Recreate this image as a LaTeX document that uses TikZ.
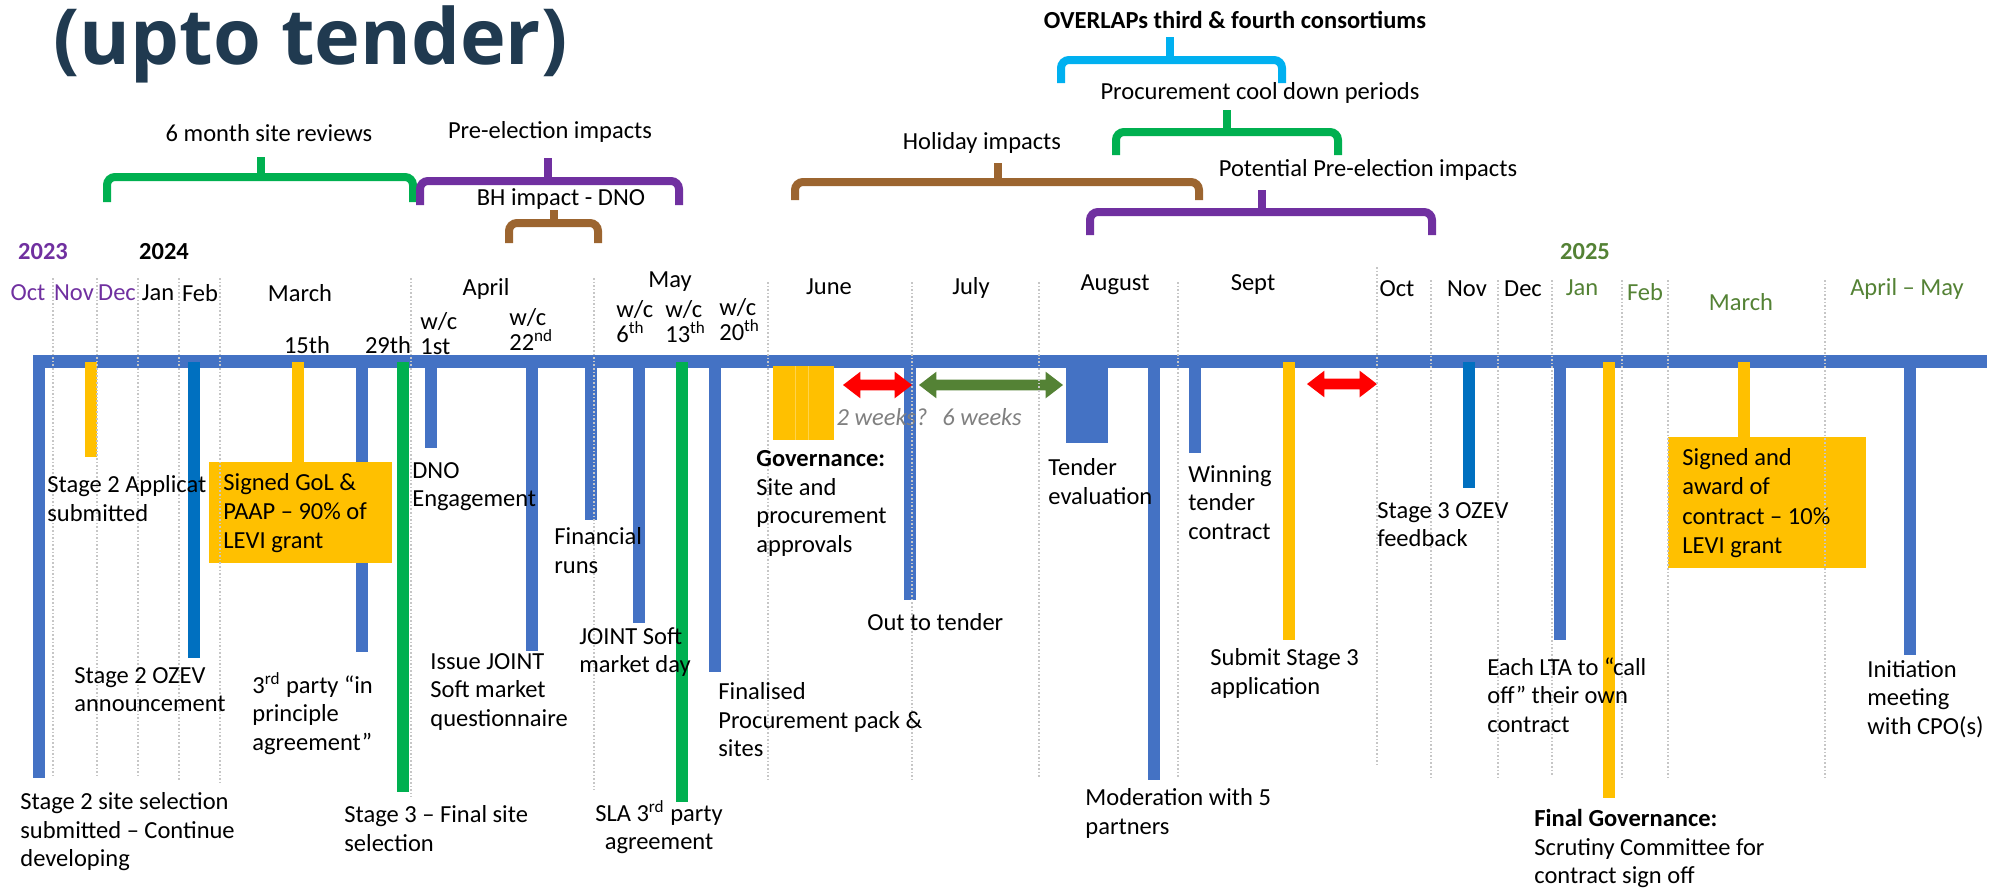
\documentclass[tikz,border=0pt]{standalone}
\usepackage{fontspec}
\setmainfont{Carlito}
\newfontfamily\titlefont{Open Sans}
\usetikzlibrary{shapes.arrows}

\definecolor{tlblue}{HTML}{4472C4}
\definecolor{tldblue}{HTML}{0070C0}
\definecolor{tlorange}{HTML}{FFC000}
\definecolor{tlgreen}{HTML}{00B050}
\definecolor{tlpurple}{HTML}{7030A0}
\definecolor{tlbrown}{HTML}{9C6530}
\definecolor{tlcyan}{HTML}{00B0F0}
\definecolor{tlolive}{HTML}{548235}
\definecolor{tlnavy}{HTML}{203A50}

\tikzset{
  evbar/.style={line width=6pt},
  brace/.style={line width=4pt, rounded corners=4pt},
  gridln/.style={gray!45, line width=0.6pt, dash pattern=on 0.8pt off 1pt},
  lbl/.style={anchor=north west, inner sep=0pt, align=left},
  mon/.style={inner sep=0pt},
  wc/.style={anchor=north west, inner sep=0pt, align=left, font=\fontsize{12.25}{12.5}\selectfont},
  grantbox/.style={fill=tlorange, anchor=north west, inner sep=0pt},
  gap/.style={double arrow, double arrow head extend=4pt, double arrow tip angle=75,
    minimum width=13pt, inner xsep=0pt, inner ysep=2.5pt, draw=none},
  weeks/.style={font=\fontsize{12.25}{14}\selectfont\itshape, text=gray}
}

\begin{document}
\begin{tikzpicture}[x=0.5pt, y=-0.5pt, font=\fontsize{12.25}{14.3}\selectfont]
    \useasboundingbox (0,0) rectangle (2004,890);

    % Title
    \node[anchor=base west, inner sep=0pt, text=tlnavy, font=\titlefont\bfseries\fontsize{38.7}{42}\selectfont]
        (title) at (53,64) {(upto tender)};

    % Braces for the impact periods
    \draw[brace, tlgreen] (107,202) -- (107,177) -- (413,177) -- (413,202);
    \draw[brace, tlgreen] (261,177) -- (261,157);
    \node (sixmonth) at (269,133) {6 month site reviews};

    \draw[brace, tlpurple] (420,205) -- (420,181) -- (679,181) -- (679,205);
    \draw[brace, tlpurple] (548,181) -- (548,158);
    \node (preelect) at (550,132) {Pre-election impacts};

    \draw[brace, tlbrown] (509,243) -- (509,223) -- (598,223) -- (598,243);
    \draw[brace, tlbrown] (554,223) -- (554,210);
    \node (bhimpact) at (561,199) {BH impact - DNO};

    \draw[brace, tlbrown] (795,200) -- (795,182) -- (1199,182) -- (1199,200);
    \draw[brace, tlbrown] (998,182) -- (998,163);
    \node (holiday) at (982,143) {Holiday impacts};

    \draw[brace, tlcyan] (1061,83) -- (1061,60) -- (1282,60) -- (1282,83);
    \draw[brace, tlcyan] (1170,60) -- (1170,37);
    \node[font=\fontsize{12.25}{14}\selectfont\bfseries] (overlap) at (1235,20) {OVERLAPs third \& fourth consortiums};

    \draw[brace, tlgreen] (1116,155) -- (1116,132) -- (1338,132) -- (1338,155);
    \draw[brace, tlgreen] (1227,132) -- (1227,110);
    \node (cooldown) at (1260,93) {Procurement cool down periods};

    \draw[brace, tlpurple] (1090,235) -- (1090,212) -- (1432,212) -- (1432,235);
    \draw[brace, tlpurple] (1262,212) -- (1262,190);
    \node (potential) at (1368,170) {Potential Pre-election impacts};

    % Years and months
    \node[mon, text=tlpurple, font=\fontsize{12.25}{14}\selectfont\bfseries] (y23) at (43,252) {2023};
    \node[mon, font=\fontsize{12.25}{14}\selectfont\bfseries] (y24) at (164,252) {2024};
    \node[mon, text=tlolive, font=\fontsize{12.25}{14}\selectfont\bfseries] (y25) at (1585,252) {2025};

    \node[mon, text=tlpurple] (oct23) at (28,293) {Oct};
    \node[mon, text=tlpurple] (nov23) at (74,293) {Nov};
    \node[mon, text=tlpurple] (dec23) at (117,293) {Dec};
    \node[mon] (jan24) at (158,293) {Jan};
    \node[mon] (feb24) at (200,293) {Feb};
    \node[mon] (mar24) at (300,293) {March};
    \node[mon] (apr24) at (486,289) {April};
    \node[mon] (may24) at (670,282) {May};
    \node[mon] (jun24) at (829,287) {June};
    \node[mon] (jul24) at (971,288) {July};
    \node[mon] (aug24) at (1115,285) {August};
    \node[mon] (sep24) at (1253,285) {Sept};
    \node[mon] (oct24) at (1397,289) {Oct};
    \node[mon] (nov24) at (1467,289) {Nov};
    \node[mon] (dec24) at (1523,289) {Dec};
    \node[mon, text=tlolive] (jan25) at (1582,288) {Jan};
    \node[mon, text=tlolive] (feb25) at (1645,292) {Feb};
    \node[mon, text=tlolive] (mar25) at (1741,302) {March};
    \node[mon, text=tlolive] (aprmay) at (1907,289) {April -- May};

    % Days and weeks
    \node[mon] (d15) at (307,345) {15th};
    \node[mon] (d29) at (388,345) {29th};
    \node[wc] (wc1) at (420,312) {w/c\\1st};
    \node[wc] (wc22) at (509,308) {w/c\\22\textsuperscript{nd}};
    \node[wc] (wc6) at (616,300) {w/c\\6\textsuperscript{th}};
    \node[wc] (wc13) at (665,300) {w/c\\13\textsuperscript{th}};
    \node[wc] (wc20) at (719,298) {w/c\\20\textsuperscript{th}};

    % Main time line
    \coordinate (tlstart) at (33,361.5);
    \coordinate (tlend) at (1987,361.5);
    \draw[line width=6.5pt, tlblue] (tlstart) -- (tlend);

    % Event bars
    \foreach \n/\x/\y/\c in {sel/39/778/tlblue, app/91/457/tlorange, ozev/194/658/tldblue,
        party/362/652/tlblue, final/403/792/tlgreen, dno/431/448/tlblue, sq/532/651/tlblue,
        fin/591/520/tlblue, smd/639/623/tlblue, sla/682/802/tlgreen, pack/715/672/tlblue,
        out/910/600/tlblue, mod/1154/780/tlblue, win/1195/453/tlblue, sub/1289/640/tlorange,
        fb/1469/488/tldblue, lta/1560/640/tlblue, gov/1609/798/tlorange, cpo/1910/655/tlblue}
    {
        \coordinate (t\n) at (\x,362);
        \coordinate (e\n) at (\x,\y);
        \draw[evbar, \c] (t\n) -- (e\n);
    }
    \draw[evbar, tlblue] (39,355) -- (tsel);

    % Grant boxes
    \node[grantbox, minimum width=91.5pt, minimum height=50.5pt] (gol) at (209,462) {};
    \node[anchor=west, inner sep=0pt, align=left, font=\fontsize{12.25}{14.5}\selectfont]
        (golt) at ([xshift=7pt]gol.west) {Signed GoL \&\\PAAP -- 90\% of\\LEVI grant};
    \node[grantbox, minimum width=99pt, minimum height=65.5pt] (award) at (1668,437) {};
    \node[anchor=west, inner sep=0pt, align=left, font=\fontsize{12.25}{14.7}\selectfont]
        (awardt) at ([xshift=7pt]award.west) {Signed and\\award of\\contract -- 10\%\\LEVI grant};
    \coordinate (tgol) at (298,362);
    \draw[evbar, tlorange] (tgol) -- (tgol |- gol.north);
    \coordinate (taward) at (1744,362);
    \draw[evbar, tlorange] (taward) -- (taward |- award.north);

    % June governance and tender evaluation blocks
    \fill[tlorange] (773,366) rectangle (834,440);
    \draw[tlorange!70!white, line width=0.3pt] (795,366) -- (795,440) (808,366) -- (808,440);
    \fill[tlblue] (1066,362) rectangle (1108,443);

    % Gaps between steps
    \node[gap, fill=red, minimum height=34.5pt] (gapa) at (877.5,385) {};
    \node[gap, fill=tlolive, minimum height=72pt] (gapb) at (991,385) {};
    \node[gap, fill=red, minimum height=35pt] (gapc) at (1342,384) {};
    \node[weeks] (twowk) at (882,417) {2 weeks?};
    \node[weeks] (sixwk) at (982,417) {6 weeks};

    % Month grid
    \foreach \x/\a/\b in {53/278/777, 97/278/776, 138/278/777, 179/278/780, 220/278/783,
        411/278/797, 594/278/790, 768/282/782, 912/282/780, 1039/282/777, 1178/282/777,
        1377/267/765, 1431/280/780, 1498/280/780, 1552/280/775, 1622/280/777,
        1668/280/780, 1825/280/780}
        \draw[gridln] (\x,\a) -- (\x,\b);

    % Event labels
    \node[lbl] (lsel) at (20,792) {Stage 2 site selection\\submitted -- Continue\\developing};
    \node[lbl] (lapp) at (47,475) {Stage 2 Applicat\\submitted};
    \node[lbl] (lozev) at (74,667) {Stage 2 OZEV\\announcement};
    \node[lbl] (lparty) at (252,672) {3\textsuperscript{rd} party “in\\principle\\agreement”};
    \node[lbl] (lfinal) at (344,805) {Stage 3 -- Final site\\selection};
    \node[lbl] (ldno) at (412,462) {DNO\\Engagement};
    \node[lbl] (lsq) at (430,653) {Issue JOINT\\Soft market\\questionnaire};
    \node[lbl] (lfin) at (554,527) {Financial\\runs};
    \node[lbl] (lsmd) at (579,627) {JOINT Soft\\market day};
    \node[lbl, anchor=north, align=center] (lsla) at (659,800) {SLA 3\textsuperscript{rd} party\\agreement};
    \node[lbl] (lpack) at (718,682) {Finalised\\Procurement pack \&\\sites};
    \node[lbl] (lgov) at (756,450) {\textbf{Governance:}\\Site and\\procurement\\approvals};
    \node[lbl] (lout) at (867,613) {Out to tender};
    \node[lbl] (leval) at (1048,458) {Tender\\evaluation};
    \node[lbl] (lmod) at (1085,788) {Moderation with 5\\partners};
    \node[lbl] (lwin) at (1188,465) {Winning\\tender\\contract};
    \node[lbl] (lsub) at (1210,648) {Submit Stage 3\\application};
    \node[lbl] (lfb) at (1377,502) {Stage 3 OZEV\\feedback};
    \node[lbl] (llta) at (1487,657) {Each LTA to “call\\off” their own\\contract};
    \node[lbl] (lfgov) at (1534,809) {\textbf{Final Governance:}\\Scrutiny Committee for\\contract sign off};
    \node[lbl] (lcpo) at (1867,660) {Initiation\\meeting\\with CPO(s)};
\end{tikzpicture}
\end{document}
